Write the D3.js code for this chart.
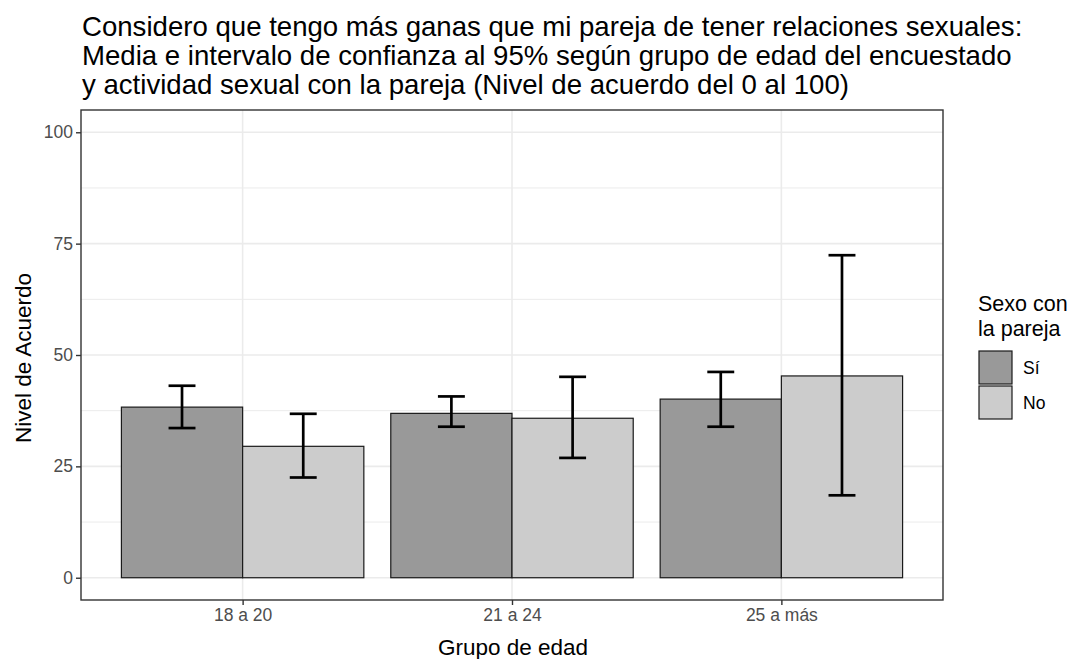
<!DOCTYPE html>
<html><head><meta charset="utf-8">
<script src="https://cdn.jsdelivr.net/npm/d3@7"></script>
<style>body{margin:0;background:#fff}svg{display:block}text{font-family:"Liberation Sans",Arial,sans-serif}</style>
</head><body>
<svg id="c" width="1075" height="659"></svg>
<script>
const categories = ["18 a 20", "21 a 24", "25 a más"];
const groups = ["Sí", "No"];
const meanSi = [38.3, 36.9, 40.1];
const lowSi  = [33.6, 33.9, 33.9];
const highSi = [43.1, 40.7, 46.2];
const meanNo = [29.5, 35.8, 45.3];
const lowNo  = [22.5, 26.9, 18.5];
const highNo = [36.8, 45.1, 72.4];
const yTicks = [0, 25, 50, 75, 100];
const titleLines = [
  "Considero que tengo más ganas que mi pareja de tener relaciones sexuales:",
  "Media e intervalo de confianza al 95% según grupo de edad del encuestado",
  "y actividad sexual con la pareja (Nivel de acuerdo del 0 al 100)"
];
const legendTitle = ["Sexo con", "la pareja"];
const colors = {"Sí": "#999999", "No": "#CCCCCC"};

const data = [];
categories.forEach((c, i) => {
  data.push({cat: c, g: "Sí", m: meanSi[i], lo: lowSi[i], hi: highSi[i]});
  data.push({cat: c, g: "No", m: meanNo[i], lo: lowNo[i], hi: highNo[i]});
});

const svg = d3.select("#c");
const L = 81, R = 943, T = 110, B = 600;

const y = d3.scaleLinear().domain([-5, 105]).range([B, T]);
const xc = d3.scalePoint().domain(categories).range([L + (R - L) * 0.6 / 3.2, R - (R - L) * 0.6 / 3.2]);
const unit = (R - L) / 3.2;
const x1 = d3.scaleBand().domain(groups).range([-0.45 * unit, 0.45 * unit]).padding(0);

svg.append("rect").attr("x", L).attr("y", T).attr("width", R - L).attr("height", B - T).attr("fill", "#fff");

const minor = [12.5, 37.5, 62.5, 87.5];
svg.append("g").selectAll("line").data(minor).join("line")
  .attr("x1", L).attr("x2", R).attr("y1", d => y(d)).attr("y2", d => y(d))
  .attr("stroke", "#EBEBEB").attr("stroke-width", 1);
svg.append("g").selectAll("line").data(yTicks).join("line")
  .attr("x1", L).attr("x2", R).attr("y1", d => y(d)).attr("y2", d => y(d))
  .attr("stroke", "#EBEBEB").attr("stroke-width", 1.6);
svg.append("g").selectAll("line").data(categories).join("line")
  .attr("y1", T).attr("y2", B).attr("x1", d => xc(d)).attr("x2", d => xc(d))
  .attr("stroke", "#EBEBEB").attr("stroke-width", 1.6);

svg.append("g").selectAll("rect").data(data).join("rect")
  .attr("x", d => xc(d.cat) + x1(d.g))
  .attr("width", x1.bandwidth())
  .attr("y", d => y(d.m))
  .attr("height", d => y(0) - y(d.m))
  .attr("fill", d => colors[d.g])
  .attr("stroke", "#1a1a1a").attr("stroke-width", 1.2);

const capW = 0.1 * unit;
const eb = svg.append("g").attr("stroke", "#000").attr("stroke-width", 2.7).attr("fill", "none");
data.forEach(d => {
  const cx = xc(d.cat) + x1(d.g) + x1.bandwidth() / 2;
  eb.append("line").attr("x1", cx).attr("x2", cx).attr("y1", y(d.lo)).attr("y2", y(d.hi));
  eb.append("line").attr("x1", cx - capW / 2).attr("x2", cx + capW / 2).attr("y1", y(d.lo)).attr("y2", y(d.lo));
  eb.append("line").attr("x1", cx - capW / 2).attr("x2", cx + capW / 2).attr("y1", y(d.hi)).attr("y2", y(d.hi));
});

svg.append("rect").attr("x", L).attr("y", T).attr("width", R - L).attr("height", B - T)
  .attr("fill", "none").attr("stroke", "#333333").attr("stroke-width", 1.4);

const FONT = "Liberation Sans, Arial, sans-serif";
const yAxis = svg.append("g").attr("transform", `translate(${L},0)`)
  .call(d3.axisLeft(y).tickValues(yTicks).tickSize(5).tickPadding(3));
yAxis.select(".domain").remove();
yAxis.selectAll(".tick line").attr("stroke", "#333333").attr("stroke-width", 1.4);
yAxis.selectAll(".tick text").attr("fill", "#4D4D4D").style("font-size", "17.5px").style("font-family", FONT);

const xAxis = svg.append("g").attr("transform", `translate(0,${B})`)
  .call(d3.axisBottom(xc).tickSize(5).tickPadding(4));
xAxis.select(".domain").remove();
xAxis.selectAll(".tick line").attr("stroke", "#333333").attr("stroke-width", 1.4);
xAxis.selectAll(".tick text").attr("fill", "#4D4D4D").style("font-size", "17.5px").style("font-family", FONT);

svg.append("text").attr("x", 513).attr("y", 655).attr("text-anchor", "middle")
  .style("font-size", "22.5px").attr("fill", "#000").text("Grupo de edad");
svg.append("text").attr("transform", `translate(31,358) rotate(-90)`).attr("text-anchor", "middle")
  .style("font-size", "22.5px").attr("fill", "#000").text("Nivel de Acuerdo");

svg.append("g").selectAll("text").data(titleLines).join("text")
  .attr("x", 82).attr("y", (d, i) => 36 + i * 29)
  .style("font-size", "27.6px").attr("fill", "#000").text(d => d);

const lg = svg.append("g");
lg.selectAll("text.lt").data(legendTitle).join("text").attr("class", "lt")
  .attr("x", 978).attr("y", (d, i) => 311 + i * 25)
  .style("font-size", "21.5px").attr("fill", "#000").text(d => d);
groups.forEach((g, i) => {
  const ky = 351 + i * 35;
  lg.append("rect").attr("x", 979).attr("y", ky).attr("width", 33).attr("height", 33)
    .attr("fill", colors[g]).attr("stroke", "#1a1a1a").attr("stroke-width", 1.2);
  lg.append("text").attr("x", 1023).attr("y", ky + 17).attr("dy", "0.35em")
    .style("font-size", "17.5px").attr("fill", "#000").text(g);
});
</script>
</body></html>
